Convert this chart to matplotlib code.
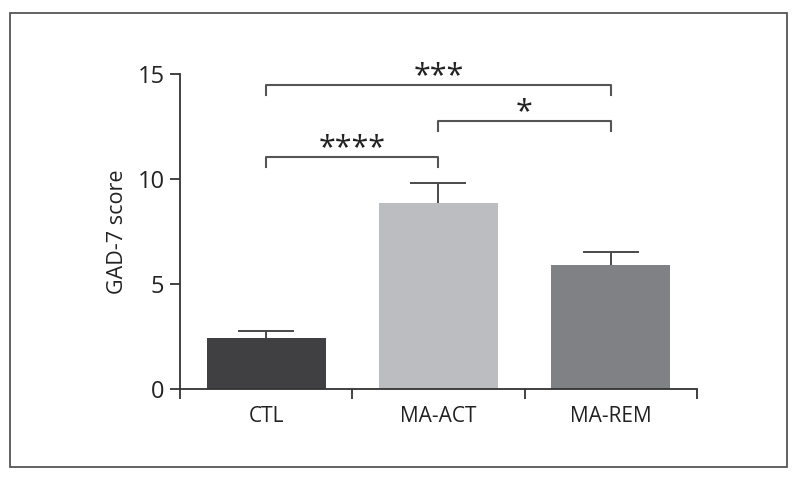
import matplotlib
matplotlib.use("Agg")
import matplotlib.pyplot as plt
from matplotlib.patches import Rectangle

groups = ["CTL", "MA-ACT", "MA-REM"]
means = [2.45, 8.86, 5.9]
errors = [0.3, 0.95, 0.62]
bar_colors = ["#404042", "#bcbdc1", "#808185"]

# significance brackets: (left group, right group, height, label)
brackets = [(0, 1, 11.05, "****"), (1, 2, 12.78, "*"), (0, 2, 14.48, "***")]

plt.rcParams['font.family'] = ['Open Sans', 'DejaVu Sans']

fig = plt.figure(figsize=(8, 4.8), dpi=100)
ax = fig.add_axes([0.225, 0.1896, 0.646, 0.6563])

x = list(range(len(groups)))
ax.bar(x, means, width=0.69, color=bar_colors, zorder=2)
eb = ax.errorbar(x, means, yerr=[[0] * len(errors), errors], fmt='none',
                 ecolor="#4a4a4a", elinewidth=1.4, capsize=20, capthick=1.4,
                 zorder=3)
# only the upper cap is drawn
eb[1][0].set_visible(False)

ax.set_xlim(-0.5, 2.5)
ax.set_ylim(0, 15)
ax.set_yticks([0, 5, 10, 15])
ax.set_xticks(x)
ax.set_xticklabels(groups)
ax.set_xticks([-0.5, 0.5, 1.5, 2.5], minor=True)

for s in ['top', 'right']:
    ax.spines[s].set_visible(False)
for s in ['left', 'bottom']:
    ax.spines[s].set_color("#333333")
    ax.spines[s].set_linewidth(1.3)

ax.tick_params(axis='y', length=7.2, width=1.3, color="#333333",
               labelsize=17, labelcolor="#222222", pad=4)
ax.tick_params(axis='x', which='major', length=0, labelsize=15,
               labelcolor="#222222", pad=12)
ax.tick_params(axis='x', which='minor', length=7.2, width=1.3, color="#333333")

ax.set_ylabel("GAD-7 score", fontsize=15.5, color="#222222", labelpad=7)

for a, b, h, label in brackets:
    drop = 0.48
    ax.plot([a, a, b, b], [h - drop, h, h, h - drop], color="#555555",
            lw=1.5, clip_on=False, zorder=4)
    ax.text((a + b) / 2, h - 0.3, label, ha='center', va='bottom',
            fontsize=22, color="#222222", clip_on=False)

fig.patches.append(Rectangle((10 / 800, 13 / 480), 777 / 800, 454 / 480,
                             transform=fig.transFigure, fill=False,
                             edgecolor="#555555", linewidth=1.3))

fig.savefig("out.png", dpi=100)
